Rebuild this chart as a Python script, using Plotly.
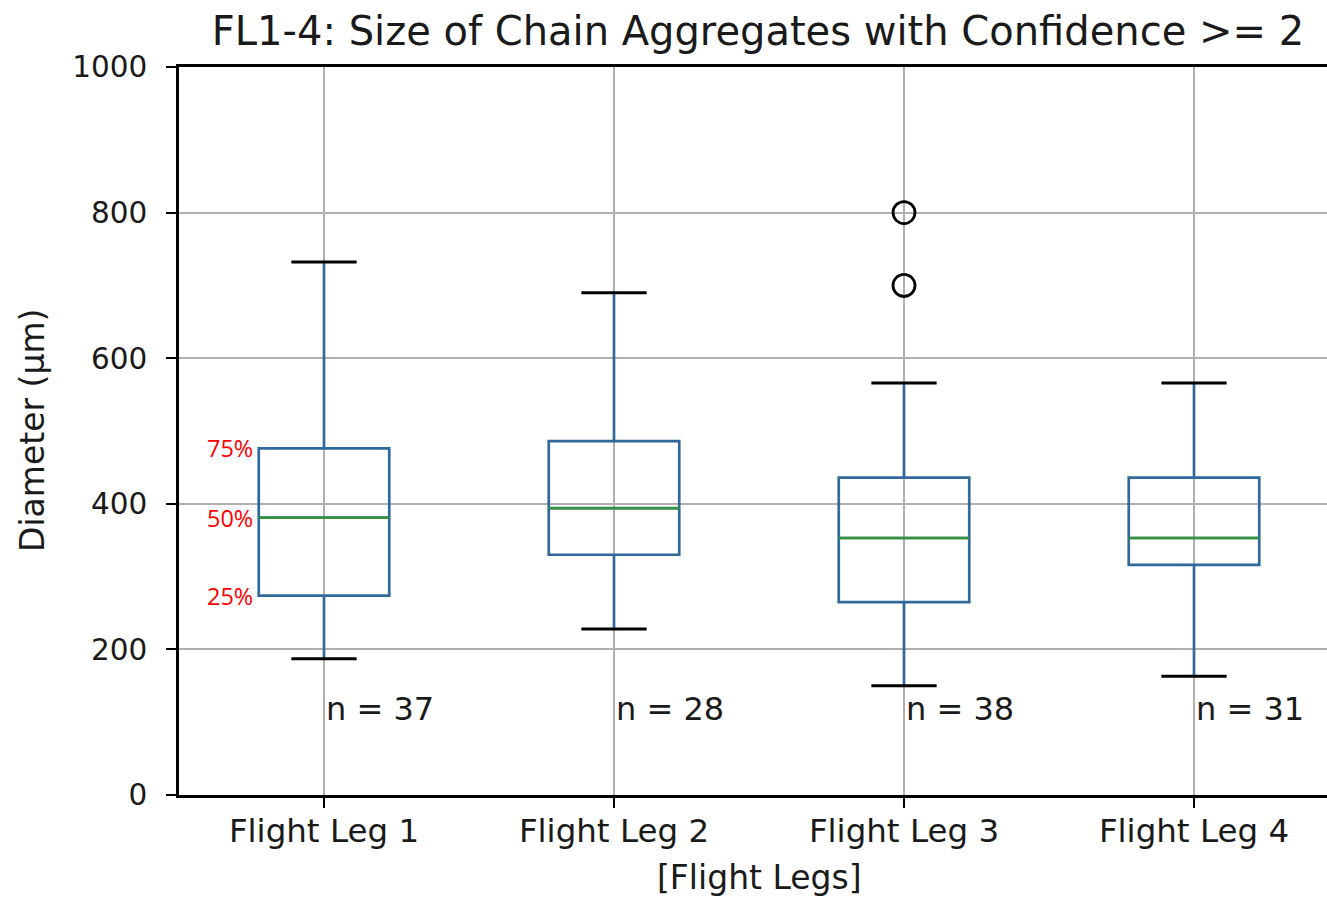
import plotly.graph_objects as go

# Box statistics per flight leg (diameter in µm)
legs = ["Flight Leg 1", "Flight Leg 2", "Flight Leg 3", "Flight Leg 4"]
lower_whisker = [187, 228, 150, 163]
q1 = [274, 330, 265, 316]
median = [381, 394, 353, 353]
q3 = [476, 486, 436, 436]
upper_whisker = [732, 690, 566, 566]
counts = [37, 28, 38, 31]
outlier_leg = [2, 2]
outlier_val = [800, 700]

positions = list(range(len(legs)))
BOX_W = 0.45
CAP_HALF = BOX_W / 4
BLUE = "#31699c"
GREEN = "#33943a"
FONT = "DejaVu Sans"
TXT = "#1a1a1a"
LEFT, PLOT_W, SPACING = 179, 1148, 290.0

fig = go.Figure()

fig.add_trace(go.Box(
    x=positions, q1=q1, median=median, q3=q3,
    lowerfence=lower_whisker, upperfence=upper_whisker,
    width=BOX_W, whiskerwidth=0,
    line=dict(color=BLUE, width=2.7),
    fillcolor="rgba(0,0,0,0)",
    boxpoints=False, showlegend=False, hoverinfo="skip",
))

# medians in green, drawn over the box
mx, my = [], []
for p, m in zip(positions, median):
    mx += [p - BOX_W / 2, p + BOX_W / 2, None]
    my += [m, m, None]
fig.add_trace(go.Scatter(x=mx, y=my, mode="lines",
                         line=dict(color=GREEN, width=2.5),
                         showlegend=False, hoverinfo="skip"))

# black whisker caps
cx, cy = [], []
for p, lo, hi in zip(positions, lower_whisker, upper_whisker):
    cx += [p - CAP_HALF, p + CAP_HALF, None, p - CAP_HALF, p + CAP_HALF, None]
    cy += [lo, lo, None, hi, hi, None]
fig.add_trace(go.Scatter(x=cx, y=cy, mode="lines",
                         line=dict(color="black", width=3),
                         showlegend=False, hoverinfo="skip"))

# outliers
fig.add_trace(go.Scatter(x=outlier_leg, y=outlier_val, mode="markers",
                         marker=dict(symbol="circle-open", size=22,
                                     color="black", line=dict(width=2.8)),
                         showlegend=False, hoverinfo="skip"))

annotations = []
for p, n in zip(positions, counts):
    annotations.append(dict(
        x=p, y=100, xref="x", yref="y", text=f"n = {n}",
        showarrow=False, xanchor="left", yanchor="bottom", yshift=-8,
        font=dict(family=FONT, size=32, color=TXT),
    ))

# quartile labels beside the first box
for lab, val in zip(["75%", "50%", "25%"], [q3[0], median[0], q1[0]]):
    annotations.append(dict(
        x=positions[0] - BOX_W / 2, y=val, xref="x", yref="y", text=lab,
        showarrow=False, xanchor="right", yanchor="middle", xshift=-4,
        font=dict(family="Open Sans", size=23.5, color="red"),
    ))

# axis titles
annotations.append(dict(
    x=1.5, y=-0.114, xref="x", yref="paper", text="[Flight Legs]",
    showarrow=False, xanchor="center", yanchor="middle",
    font=dict(family=FONT, size=33, color=TXT),
))
annotations.append(dict(
    x=(32 - LEFT) / PLOT_W, y=0.5, xref="paper", yref="paper",
    text="Diameter (µm)", textangle=-90,
    showarrow=False, xanchor="center", yanchor="middle",
    font=dict(family=FONT, size=33, color=TXT),
))

fig.update_layout(
    width=1327, height=900,
    margin=dict(l=LEFT, r=1327 - LEFT - PLOT_W, t=67, b=105),
    paper_bgcolor="white", plot_bgcolor="white",
    font=dict(family=FONT, size=33, color=TXT),
    title=dict(text="FL1-4: Size of Chain Aggregates with Confidence >= 2",
               x=758 / 1327, xref="container", xanchor="center",
               y=1 - 31 / 900, yref="container", yanchor="middle",
               font=dict(family=FONT, size=40, color=TXT)),
    annotations=annotations,
)

fig.update_xaxes(
    range=[-0.5, -0.5 + PLOT_W / SPACING],
    tickvals=positions, ticktext=legs,
    showgrid=True, gridcolor="#b0b0b0", gridwidth=2,
    showline=True, linecolor="black", linewidth=2.5, mirror=True,
    ticks="outside", ticklen=10, tickwidth=2, tickcolor="black",
    zeroline=False, ticklabelstandoff=-5,
    tickfont=dict(family=FONT, size=32.5, color=TXT),
)
fig.update_yaxes(
    range=[0, 1000], tickvals=[0, 200, 400, 600, 800, 1000],
    showgrid=True, gridcolor="#b0b0b0", gridwidth=2,
    showline=True, linecolor="black", linewidth=2.5, mirror=False,
    ticks="outside", ticklen=10, tickwidth=2, tickcolor="black",
    zeroline=False, ticklabelstandoff=13,
    tickfont=dict(family=FONT, size=29.5, color=TXT),
)

fig.write_html("out.html")
